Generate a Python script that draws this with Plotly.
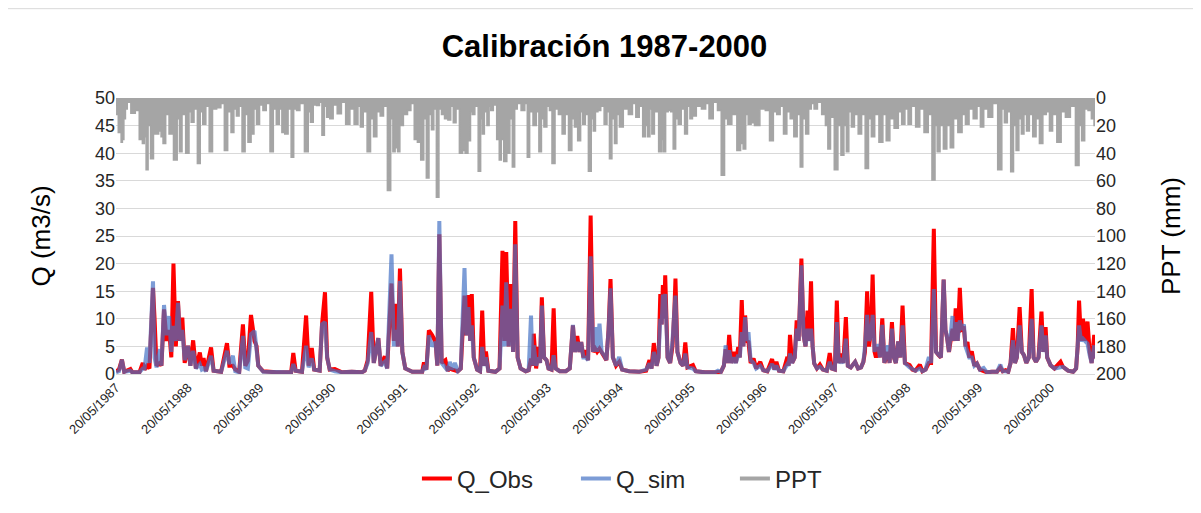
import pandas as pd
import plotly.graph_objects as go

# ---- data (Calibración 1987-2000) ----
q_dates = [
    "1987-05-20", "1987-06-04", "1987-06-19", "1987-07-01", "1987-08-01", "1987-08-11", "1987-09-16",
    "1987-10-03", "1987-10-12", "1987-10-25", "1987-11-06", "1987-11-24", "1987-12-02", "1987-12-12",
    "1987-12-29", "1988-01-06", "1988-01-19", "1988-02-01", "1988-02-14", "1988-02-25", "1988-03-07",
    "1988-03-19", "1988-03-30", "1988-04-10", "1988-04-21", "1988-05-03", "1988-05-20", "1988-06-01",
    "1988-06-15", "1988-06-29", "1988-07-19", "1988-07-29", "1988-08-07", "1988-08-19", "1988-09-14",
    "1988-09-27", "1988-11-04", "1988-12-04", "1988-12-16", "1989-01-03", "1989-01-15", "1989-02-04",
    "1989-02-23", "1989-03-07", "1989-03-20", "1989-04-05", "1989-04-23", "1989-05-03", "1989-05-12",
    "1989-06-06", "1989-08-12", "1989-10-03", "1989-10-26", "1989-11-06", "1989-11-18", "1989-12-20",
    "1990-01-10", "1990-01-23", "1990-02-08", "1990-02-20", "1990-03-20", "1990-04-01", "1990-04-16",
    "1990-04-27", "1990-05-10", "1990-06-05", "1990-07-11", "1990-08-30", "1990-10-20", "1990-11-04",
    "1990-11-19", "1990-12-07", "1990-12-20", "1991-01-12", "1991-01-24", "1991-02-14", "1991-02-26",
    "1991-03-20", "1991-04-01", "1991-04-10", "1991-04-21", "1991-05-02", "1991-05-14", "1991-05-29",
    "1991-07-04", "1991-08-23", "1991-09-01", "1991-09-13", "1991-09-26", "1991-10-13", "1991-10-30",
    "1991-11-08", "1991-11-18", "1991-11-30", "1991-12-19", "1991-12-31", "1992-01-10", "1992-01-23",
    "1992-02-05", "1992-02-20", "1992-03-06", "1992-03-25", "1992-04-03", "1992-04-14", "1992-04-23",
    "1992-05-01", "1992-05-11", "1992-05-28", "1992-06-12", "1992-06-23", "1992-07-03", "1992-07-12",
    "1992-07-24", "1992-08-29", "1992-09-19", "1992-10-04", "1992-10-14", "1992-10-23", "1992-11-04",
    "1992-11-16", "1992-11-27", "1992-12-08", "1992-12-20", "1993-01-04", "1993-01-30", "1993-02-14",
    "1993-02-26", "1993-03-06", "1993-03-12", "1993-03-24", "1993-04-05", "1993-04-13", "1993-04-22",
    "1993-05-03", "1993-05-16", "1993-05-26", "1993-06-10", "1993-06-21", "1993-07-01", "1993-07-22",
    "1993-08-22", "1993-09-11", "1993-09-27", "1993-10-07", "1993-10-19", "1993-10-30", "1993-11-08",
    "1993-11-19", "1993-12-01", "1993-12-13", "1993-12-26", "1994-01-07", "1994-01-18", "1994-01-28",
    "1994-02-09", "1994-02-20", "1994-03-04", "1994-03-16", "1994-03-27", "1994-04-06", "1994-04-18",
    "1994-05-04", "1994-05-20", "1994-06-04", "1994-07-10", "1994-08-30", "1994-10-04", "1994-10-21",
    "1994-10-31", "1994-11-12", "1994-11-26", "1994-12-06", "1994-12-15", "1994-12-22", "1994-12-28",
    "1995-01-03", "1995-01-09", "1995-01-21", "1995-02-03", "1995-02-15", "1995-02-25", "1995-03-02",
    "1995-03-12", "1995-03-28", "1995-04-10", "1995-04-21", "1995-05-02", "1995-05-30", "1995-06-13",
    "1995-07-29", "1995-09-19", "1995-10-04", "1995-10-19", "1995-11-03", "1995-11-12", "1995-11-21",
    "1995-11-30", "1995-12-11", "1995-12-24", "1996-01-03", "1996-01-15", "1996-01-23", "1996-02-02",
    "1996-02-10", "1996-02-19", "1996-02-27", "1996-03-07", "1996-03-18", "1996-04-02", "1996-04-15",
    "1996-05-06", "1996-05-21", "1996-06-11", "1996-07-05", "1996-07-17", "1996-07-27", "1996-08-09",
    "1996-08-31", "1996-09-21", "1996-09-27", "1996-10-04", "1996-10-15", "1996-10-28", "1996-11-07",
    "1996-11-17", "1996-12-01", "1996-12-12", "1996-12-22", "1997-01-01", "1997-01-09", "1997-01-19",
    "1997-01-27", "1997-02-04", "1997-02-18", "1997-03-05", "1997-03-20", "1997-04-09", "1997-04-24",
    "1997-05-04", "1997-05-20", "1997-05-30", "1997-06-09", "1997-06-20", "1997-07-02", "1997-07-15",
    "1997-07-25", "1997-08-09", "1997-08-31", "1997-09-15", "1997-09-30", "1997-10-12", "1997-10-20",
    "1997-10-31", "1997-11-10", "1997-11-20", "1997-11-28", "1997-12-08", "1997-12-15", "1997-12-27",
    "1998-01-04", "1998-01-16", "1998-01-27", "1998-02-13", "1998-02-22", "1998-03-06", "1998-03-16",
    "1998-03-26", "1998-04-07", "1998-04-18", "1998-04-29", "1998-05-11", "1998-06-04", "1998-06-18",
    "1998-07-03", "1998-07-26", "1998-08-08", "1998-08-24", "1998-09-10", "1998-09-21", "1998-10-05",
    "1998-10-16", "1998-10-29", "1998-11-10", "1998-11-24", "1998-12-03", "1998-12-12", "1998-12-21",
    "1998-12-29", "1999-01-08", "1999-01-16", "1999-01-24", "1999-02-03", "1999-02-14", "1999-02-24",
    "1999-03-07", "1999-03-15", "1999-03-25", "1999-04-03", "1999-04-16", "1999-04-29", "1999-05-12",
    "1999-05-27", "1999-06-15", "1999-07-02", "1999-07-27", "1999-08-22", "1999-09-08", "1999-09-20",
    "1999-10-05", "1999-10-18", "1999-10-30", "1999-11-11", "1999-11-21", "1999-12-01", "1999-12-15",
    "1999-12-26", "2000-01-06", "2000-01-18", "2000-01-31", "2000-02-14", "2000-02-24", "2000-03-07",
    "2000-03-20", "2000-04-04", "2000-04-13", "2000-04-25", "2000-05-03", "2000-05-20", "2000-06-09",
    "2000-07-10", "2000-07-22", "2000-08-17", "2000-09-12", "2000-09-27", "2000-10-05", "2000-10-12",
    "2000-10-22", "2000-11-01", "2000-11-11", "2000-11-24", "2000-12-05", "2000-12-15", "2000-12-28",
    "2001-01-01",
]
q_obs = [
    0.5, 0.8, 2.6, 0.4, 0.9, 0.3, 0.3, 2.0, 0.8, 1.5, 1.0, 15.6, 10.0, 1.5,
    2.0, 1.5, 11.7, 6.0, 8.0, 3.0, 20.0, 5.0, 13.2, 6.0, 10.2, 2.0, 5.1, 1.5,
    6.1, 1.0, 3.9, 1.5, 2.9, 0.5, 4.8, 0.6, 0.4, 5.6, 1.5, 1.5, 0.8, 0.4,
    9.0, 1.5, 2.4, 10.7, 6.0, 5.1, 1.5, 0.5, 0.3, 0.4, 0.3, 3.8, 0.6, 0.4,
    10.6, 1.5, 4.7, 0.8, 0.6, 9.0, 14.8, 3.0, 0.8, 0.9, 0.3, 0.4, 0.3, 0.6,
    2.5, 14.9, 2.0, 6.5, 1.5, 3.2, 1.0, 16.4, 6.0, 12.7, 5.0, 19.1, 4.0, 1.0,
    0.4, 0.4, 2.1, 0.8, 7.9, 7.0, 5.8, 1.5, 25.3, 2.0, 2.5, 0.6, 1.0, 0.8,
    0.6, 0.5, 1.0, 14.2, 7.0, 14.3, 6.0, 14.5, 3.0, 0.8, 0.5, 11.5, 1.5, 4.1,
    0.6, 0.4, 1.0, 22.3, 6.0, 22.1, 5.0, 16.3, 4.0, 27.7, 3.0, 1.0, 0.5, 0.7,
    2.8, 1.5, 7.3, 1.0, 4.9, 2.0, 13.9, 3.0, 2.5, 1.0, 0.8, 11.9, 1.0, 0.5,
    0.5, 1.0, 8.8, 4.0, 6.9, 4.0, 5.8, 3.0, 4.3, 2.5, 28.7, 4.0, 4.6, 4.0,
    4.6, 4.0, 3.4, 2.5, 8.0, 17.2, 3.0, 1.5, 2.2, 0.8, 0.5, 0.4, 0.6, 2.5,
    1.0, 5.6, 1.5, 3.0, 14.5, 9.0, 16.1, 10.0, 17.9, 3.0, 2.0, 5.0, 12.0, 17.3,
    4.0, 2.0, 1.5, 5.7, 1.2, 1.6, 0.5, 0.3, 0.3, 0.4, 0.4, 1.5, 4.5, 2.0,
    7.1, 2.0, 4.0, 2.0, 4.9, 3.0, 13.4, 5.0, 10.6, 6.0, 5.8, 2.0, 2.8, 1.0,
    2.2, 0.7, 0.5, 2.7, 0.8, 2.2, 0.6, 0.5, 3.1, 1.5, 7.1, 2.0, 3.0, 9.7,
    6.0, 20.9, 7.0, 5.0, 11.5, 6.0, 16.8, 5.0, 1.9, 1.0, 1.7, 0.8, 0.6, 3.8,
    1.0, 0.8, 13.3, 2.0, 3.7, 2.0, 10.3, 1.5, 1.2, 2.2, 1.0, 1.2, 2.2, 4.0,
    15.0, 5.0, 8.0, 18.0, 4.0, 3.0, 4.9, 3.0, 10.1, 2.0, 4.0, 2.0, 9.4, 3.0,
    2.0, 5.9, 3.0, 12.4, 2.0, 1.6, 0.8, 0.6, 1.7, 0.5, 0.8, 2.0, 2.0, 26.3,
    4.0, 3.4, 3.0, 17.1, 8.0, 6.4, 4.0, 6.0, 8.2, 6.0, 11.9, 6.0, 15.6, 8.0,
    8.2, 5.0, 5.8, 3.0, 4.1, 1.5, 1.9, 0.8, 0.5, 0.3, 0.4, 0.4, 1.2, 0.5,
    0.7, 0.4, 2.0, 8.3, 2.0, 3.0, 12.1, 4.0, 3.4, 2.0, 3.0, 15.4, 3.0, 2.2,
    3.0, 11.3, 4.0, 8.5, 3.0, 1.6, 1.0, 2.2, 1.3, 0.6, 0.4, 1.0, 5.0, 13.3,
    6.0, 10.0, 6.0, 9.5, 4.0, 2.0, 7.1, 2.8,
]
q_sim = [
    0.3, 0.5, 2.6, 0.4, 0.6, 0.3, 0.3, 1.0, 1.0, 4.8, 2.0, 16.8, 3.0, 1.2,
    4.5, 1.5, 12.5, 7.0, 10.5, 4.0, 8.7, 6.0, 12.9, 6.0, 8.0, 2.5, 5.1, 1.5,
    4.2, 1.0, 1.8, 0.8, 1.0, 0.5, 3.3, 0.6, 0.4, 4.2, 1.8, 3.3, 0.5, 0.3,
    6.9, 1.2, 1.0, 7.2, 7.8, 5.1, 1.5, 0.4, 0.3, 0.4, 0.3, 1.8, 0.6, 0.4,
    5.1, 1.2, 2.8, 0.8, 0.6, 9.0, 9.4, 3.0, 0.8, 0.5, 0.3, 0.4, 0.3, 0.6,
    2.0, 7.6, 2.0, 6.5, 1.5, 2.2, 1.0, 21.7, 5.0, 8.0, 5.0, 16.9, 4.0, 1.0,
    0.4, 0.4, 1.2, 0.8, 7.0, 5.0, 5.8, 1.5, 27.7, 2.0, 1.2, 0.6, 2.2, 0.8,
    2.0, 0.5, 1.0, 19.2, 7.0, 12.1, 6.0, 8.8, 3.0, 0.8, 0.5, 4.9, 1.5, 3.0,
    0.6, 0.4, 1.0, 12.4, 5.0, 16.6, 5.0, 11.8, 4.0, 23.5, 3.0, 1.0, 0.5, 0.7,
    10.6, 1.5, 5.2, 1.5, 3.0, 2.0, 12.4, 3.0, 2.5, 1.0, 0.8, 3.4, 1.0, 0.5,
    0.5, 1.0, 8.9, 4.0, 5.8, 4.0, 5.8, 3.0, 3.0, 2.5, 21.3, 4.0, 8.5, 4.0,
    9.1, 4.0, 3.4, 2.5, 8.0, 15.5, 3.0, 1.5, 3.1, 0.8, 0.5, 0.4, 0.8, 1.9,
    1.0, 4.0, 1.5, 3.0, 10.0, 9.0, 14.4, 10.0, 14.5, 3.0, 2.0, 6.0, 11.8, 14.2,
    4.0, 2.0, 1.5, 3.7, 1.2, 1.0, 0.5, 0.3, 0.3, 0.6, 0.4, 1.5, 5.2, 2.0,
    4.3, 2.0, 3.0, 2.0, 3.5, 3.0, 7.6, 5.0, 10.3, 6.0, 7.6, 2.5, 2.0, 1.0,
    1.5, 0.7, 0.5, 1.8, 0.8, 1.5, 0.6, 0.5, 1.8, 1.5, 3.7, 2.0, 3.0, 8.2,
    6.0, 19.7, 7.0, 5.0, 8.2, 6.0, 8.2, 5.0, 1.9, 1.0, 1.3, 0.8, 0.6, 2.2,
    1.0, 0.8, 9.4, 2.0, 2.5, 2.0, 6.4, 1.5, 1.2, 2.2, 1.0, 1.2, 2.2, 5.0,
    10.7, 6.0, 7.0, 10.7, 4.0, 5.1, 5.1, 3.0, 8.9, 2.0, 5.2, 2.0, 8.2, 3.0,
    2.0, 5.9, 3.0, 8.8, 2.0, 1.2, 0.8, 0.6, 1.0, 0.5, 0.8, 3.1, 2.0, 15.4,
    4.0, 3.4, 3.0, 17.1, 8.0, 6.4, 4.0, 7.0, 10.5, 6.0, 9.4, 6.0, 9.7, 8.0,
    9.0, 5.0, 4.0, 3.0, 3.0, 1.5, 1.9, 0.8, 1.1, 0.3, 0.4, 0.4, 1.7, 0.5,
    0.5, 0.4, 2.0, 6.1, 2.0, 3.0, 8.8, 4.0, 3.4, 2.0, 3.0, 10.0, 3.0, 2.2,
    3.0, 8.8, 4.0, 7.0, 3.0, 1.6, 1.0, 1.3, 1.3, 0.6, 0.4, 1.0, 6.0, 8.8,
    6.0, 6.4, 6.0, 5.5, 3.4, 2.0, 5.2, 2.8,
]

ppt_dates = [
    "1987-05-20", "1987-05-28", "1987-06-04", "1987-06-12", "1987-06-18", "1987-06-25", "1987-07-03",
    "1987-07-11", "1987-07-21", "1987-08-17", "1987-09-04", "1987-09-26", "1987-10-06", "1987-10-16",
    "1987-10-24", "1987-11-05", "1987-11-18", "1987-12-05", "1987-12-16", "1987-12-30", "1988-01-09",
    "1988-01-19", "1988-02-05", "1988-02-22", "1988-03-21", "1988-03-31", "1988-04-13", "1988-04-26",
    "1988-05-20", "1988-05-30", "1988-06-11", "1988-06-28", "1988-07-15", "1988-07-27", "1988-08-10",
    "1988-08-27", "1988-09-13", "1988-09-30", "1988-10-25", "1988-11-12", "1988-11-29", "1988-12-16",
    "1989-01-02", "1989-01-14", "1989-01-28", "1989-02-10", "1989-02-27", "1989-03-13", "1989-03-28",
    "1989-04-14", "1989-04-26", "1989-05-10", "1989-05-27", "1989-06-13", "1989-06-30", "1989-07-21",
    "1989-08-03", "1989-08-20", "1989-09-03", "1989-09-15", "1989-10-02", "1989-10-19", "1989-11-02",
    "1989-11-14", "1989-12-01", "1989-12-18", "1990-01-16", "1990-01-26", "1990-02-07", "1990-02-24",
    "1990-03-13", "1990-03-25", "1990-04-07", "1990-04-19", "1990-04-30", "1990-05-20", "1990-06-04",
    "1990-06-30", "1990-07-17", "1990-08-12", "1990-08-29", "1990-09-24", "1990-10-07", "1990-10-19",
    "1990-11-05", "1990-11-27", "1990-12-10", "1990-12-27", "1991-01-13", "1991-01-30", "1991-02-16",
    "1991-03-10", "1991-03-22", "1991-04-01", "1991-04-14", "1991-04-26", "1991-05-07", "1991-06-01",
    "1991-06-18", "1991-07-05", "1991-07-22", "1991-08-06", "1991-08-25", "1991-09-06", "1991-09-20",
    "1991-10-03", "1991-10-15", "1991-10-27", "1991-11-10", "1991-11-22", "1991-12-06", "1991-12-23",
    "1992-01-09", "1992-01-21", "1992-02-04", "1992-02-18", "1992-03-09", "1992-03-22", "1992-04-03",
    "1992-04-20", "1992-04-29", "1992-05-08", "1992-05-25", "1992-06-11", "1992-06-19", "1992-06-28",
    "1992-07-10", "1992-07-24", "1992-08-01", "1992-08-10", "1992-08-27", "1992-09-13", "1992-09-22",
    "1992-10-04", "1992-10-17", "1992-11-04", "1992-11-17", "1992-11-29", "1992-12-11", "1992-12-25",
    "1993-01-19", "1993-02-01", "1993-02-13", "1993-02-25", "1993-03-19", "1993-03-31", "1993-04-14",
    "1993-04-26", "1993-05-09", "1993-05-26", "1993-06-04", "1993-06-21", "1993-07-05", "1993-07-25",
    "1993-08-12", "1993-08-25", "1993-09-15", "1993-09-28", "1993-10-11", "1993-10-31", "1993-11-10",
    "1993-11-22", "1993-12-06", "1993-12-23", "1994-01-04", "1994-01-13", "1994-01-26", "1994-02-07",
    "1994-02-24", "1994-03-13", "1994-03-25", "1994-04-07", "1994-04-19", "1994-05-03", "1994-05-14",
    "1994-05-28", "1994-06-23", "1994-07-18", "1994-08-04", "1994-08-21", "1994-09-08", "1994-09-25",
    "1994-10-06", "1994-10-17", "1994-10-29", "1994-11-06", "1994-11-24", "1994-12-19", "1994-12-28",
    "1995-01-05", "1995-01-17", "1995-01-31", "1995-02-12", "1995-02-25", "1995-03-09", "1995-03-23",
    "1995-04-09", "1995-04-26", "1995-05-08", "1995-05-21", "1995-06-03", "1995-06-29", "1995-07-25",
    "1995-08-11", "1995-08-28", "1995-09-23", "1995-10-10", "1995-10-31", "1995-11-13", "1995-12-01",
    "1995-12-26", "1996-01-21", "1996-02-02", "1996-02-16", "1996-02-28", "1996-03-12", "1996-03-29",
    "1996-04-15", "1996-05-23", "1996-06-09", "1996-07-05", "1996-07-18", "1996-08-08", "1996-08-22",
    "1996-09-11", "1996-09-25", "1996-10-15", "1996-11-01", "1996-11-18", "1996-12-02", "1996-12-14",
    "1996-12-31", "1997-01-14", "1997-01-26", "1997-02-12", "1997-03-01", "1997-03-27", "1997-04-08",
    "1997-04-21", "1997-05-05", "1997-05-29", "1997-06-11", "1997-06-29", "1997-07-11", "1997-07-24",
    "1997-08-05", "1997-08-19", "1997-09-05", "1997-09-26", "1997-10-10", "1997-11-01", "1997-11-13",
    "1997-11-30", "1997-12-17", "1998-01-12", "1998-01-26", "1998-02-15", "1998-03-04", "1998-03-30",
    "1998-04-16", "1998-05-03", "1998-05-19", "1998-06-04", "1998-06-22", "1998-07-17", "1998-08-03",
    "1998-08-29", "1998-09-15", "1998-10-06", "1998-10-16", "1998-10-28", "1998-11-14", "1998-12-01",
    "1998-12-19", "1999-01-05", "1999-01-22", "1999-02-17", "1999-03-06", "1999-03-23", "1999-04-12",
    "1999-05-04", "1999-05-21", "1999-06-07", "1999-06-24", "1999-07-20", "1999-08-11", "1999-09-09",
    "1999-09-22", "1999-10-05", "1999-10-22", "1999-11-08", "1999-11-20", "1999-12-04", "1999-12-18",
    "1999-12-30", "2000-01-13", "2000-01-25", "2000-02-11", "2000-02-28", "2000-03-16", "2000-04-02",
    "2000-04-20", "2000-05-07", "2000-05-22", "2000-06-08", "2000-07-04", "2000-07-22", "2000-08-16",
    "2000-09-11", "2000-10-06", "2000-10-18", "2000-11-01", "2000-11-18", "2000-12-05", "2000-12-22",
    "2001-01-01",
]
ppt_mm = [
    5, 12, 25, 18, 32, 30, 15,
    8, 3, 11, 9, 30, 33, 28,
    52, 20, 44, 26, 26, 24, 28,
    33, 12, 26, 45, 15, 39, 12,
    40, 10, 17.5, 8, 47.5, 10, 19,
    6, 39, 8, 7, 4, 38, 10,
    25, 8, 13, 6, 39, 12, 32,
    26, 8, 19, 5, 9, 4, 39,
    8, 19, 8, 25, 26, 8, 43,
    8, 9, 4, 39, 10, 17.5, 5,
    5.5, 3, 27, 6, 14, 15, 5,
    11.5, 3, 19, 8, 19, 6, 21,
    10, 39, 15, 28, 10, 13, 6,
    67, 15, 39, 36, 39, 20, 12,
    9, 4, 30, 32, 45, 15, 58,
    12, 23, 8, 72, 8, 12, 15,
    16, 6, 18, 8, 40, 38, 40,
    31, 10, 12, 6, 53, 15, 26,
    10, 20, 6, 9, 5, 30, 45,
    30, 46, 40, 15, 50, 8, 4,
    9, 4, 43, 10, 20, 10, 39,
    15, 21, 6, 9, 47.5, 8, 12,
    26, 12, 38, 15, 21, 31, 10,
    19, 12, 53, 15, 24, 10, 9,
    6, 19, 10, 44, 15, 33, 12,
    21, 8, 12, 4, 14, 6, 28,
    20, 28, 8, 26, 10, 39, 30,
    39, 10, 9, 10, 37, 15, 19,
    8, 26, 6, 15, 13, 6, 8,
    4, 15, 3, 9, 56, 15, 19,
    12, 38, 33, 37, 12, 19, 18,
    20, 8, 9, 31, 10, 12, 6,
    26, 10, 15, 28, 12, 50, 15,
    26, 8, 4, 8, 3, 12, 20,
    37, 14, 52, 20, 41.5, 20, 39,
    10, 21, 12, 26, 12, 51, 15,
    28, 12, 32, 12, 31, 15, 22,
    10, 19, 8, 19, 6, 21, 8,
    25, 12, 59.5, 20, 39, 20, 37,
    20, 36, 15, 25, 12, 19, 8,
    15, 6, 21, 8, 14, 4, 52,
    8, 18, 10, 53.5, 20, 38, 15,
    26, 12, 24, 12, 28, 15, 33,
    12, 10, 24, 12, 32, 10, 14,
    6, 49, 20, 31, 8, 9, 15,
    20,
]

tick_labels = ["20/05/1987", "20/05/1988", "20/05/1989", "20/05/1990", "20/05/1991",
               "20/05/1992", "20/05/1993", "20/05/1994", "20/05/1995", "20/05/1996",
               "20/05/1997", "20/05/1998", "20/05/1999", "20/05/2000"]
tick_vals = pd.to_datetime(tick_labels, format="%d/%m/%Y")

FONT = "Liberation Sans, Arial, sans-serif"
RED = "#FF0000"
BLUE = "rgba(68,114,196,0.7)"
GREY = "#A5A5A5"
GRID = "#D9D9D9"

fig = go.Figure()
fig.add_trace(go.Scatter(x=q_dates, y=q_obs, name="Q_Obs", mode="lines",
                         line=dict(color=RED, width=4)))
fig.add_trace(go.Scatter(x=q_dates, y=q_sim, name="Q_sim", mode="lines",
                         line=dict(color=BLUE, width=4)))
# daily rain hangs from the top of the reversed right axis
fig.add_trace(go.Scatter(x=ppt_dates, y=ppt_mm, name="PPT", mode="lines", yaxis="y2",
                         line=dict(color=GREY, width=1.5, shape="hvh"),
                         fill="tozeroy", fillcolor=GREY, showlegend=False))
# legend entry for the rain series drawn as a plain line
fig.add_trace(go.Scatter(x=[None], y=[None], name="PPT", mode="lines", yaxis="y2",
                         line=dict(color=GREY, width=4)))

# the page body adds 8px, so the figure is 8px smaller than the window
fig.update_layout(
    template="none",
    width=1193, height=505,
    margin=dict(l=108, r=106, t=90, b=129),
    paper_bgcolor="white", plot_bgcolor="white",
    font=dict(family=FONT, color="#262626"),
    title=dict(text="Calibración 1987-2000", x=0.5, xanchor="center",
               y=0.925, yanchor="middle", yref="container",
               font=dict(size=31, weight=700, color="#000000")),
    xaxis=dict(type="date", range=["1987-05-20", "2001-01-01"],
               tickvals=tick_vals, ticktext=tick_labels, tickangle=-45,
               tickfont=dict(size=13, color="#262626"),
               showgrid=False, showline=True, linecolor=GRID, linewidth=1,
               ticks="", zeroline=False),
    yaxis=dict(range=[0, 50], dtick=5, tickfont=dict(size=18, color="#262626"),
               showgrid=True, gridcolor=GRID, gridwidth=1, zeroline=False,
               showline=False, ticks="",
               title=dict(text="Q (m3/s)", font=dict(size=26, color="#000000"), standoff=36)),
    yaxis2=dict(range=[200, 0], dtick=20, overlaying="y", side="right",
                tickfont=dict(size=18, color="#262626"),
                showgrid=False, zeroline=False, showline=False, ticks="",
                title=dict(text="PPT (mm)", font=dict(size=26, color="#000000"), standoff=36)),
    legend=dict(orientation="h", x=0.551, xanchor="center", y=-0.38, yanchor="middle",
                font=dict(size=24, color="#262626"), bgcolor="rgba(0,0,0,0)",
                entrywidth=114),
    shapes=[
        dict(type="line", xref="paper", yref="paper", x0=-0.1112, x1=1.2, y0=1.3237, y1=1.3237,
             line=dict(color=GRID, width=1)),
        dict(type="line", xref="paper", yref="paper", x0=-0.1112, x1=-0.1112, y0=-0.5, y1=1.3237,
             line=dict(color=GRID, width=1)),
    ],
)

fig.write_html("out.html")
